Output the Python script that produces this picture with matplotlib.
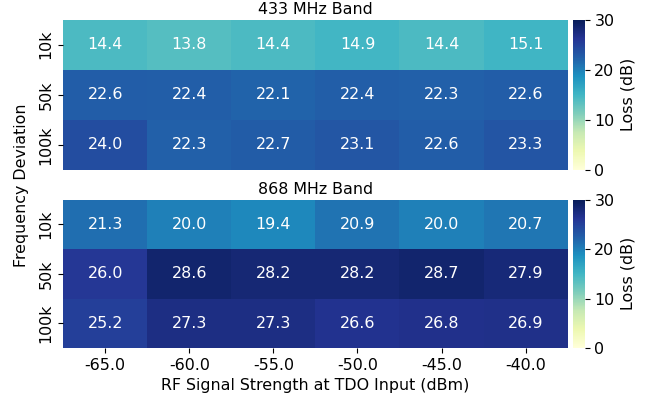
import matplotlib
matplotlib.use("Agg")
import matplotlib.pyplot as plt
import seaborn as sns
import numpy as np

# loss measurements (dB) per band
signal_strength = [-65.0, -60.0, -55.0, -50.0, -45.0, -40.0]
deviation = ["10k", "50k", "100k"]

loss_433 = [
    [14.4, 13.8, 14.4, 14.9, 14.4, 15.1],
    [22.6, 22.4, 22.1, 22.4, 22.3, 22.6],
    [24.0, 22.3, 22.7, 23.1, 22.6, 23.3],
]
loss_868 = [
    [21.3, 20.0, 19.4, 20.9, 20.0, 20.7],
    [26.0, 28.6, 28.2, 28.2, 28.7, 27.9],
    [25.2, 27.3, 27.3, 26.6, 26.8, 26.9],
]

fs = 11.4
plt.rcParams['font.size'] = fs

fig = plt.figure(figsize=(6.51, 3.94), dpi=100)

ax1 = fig.add_axes([0.097, 0.569, 0.775, 0.381])
cax1 = fig.add_axes([0.880, 0.569, 0.018, 0.381])
ax2 = fig.add_axes([0.097, 0.117, 0.775, 0.376])
cax2 = fig.add_axes([0.880, 0.117, 0.018, 0.376])

xlabels = [f"{v:.1f}" for v in signal_strength]

for ax, cax, data, title in [(ax1, cax1, loss_433, "433 MHz Band"),
                             (ax2, cax2, loss_868, "868 MHz Band")]:
    sns.heatmap(np.array(data), ax=ax, cbar_ax=cax, cmap="YlGnBu",
                vmin=0, vmax=30, annot=True, fmt=".1f",
                annot_kws={"color": "white", "fontsize": fs},
                xticklabels=xlabels, yticklabels=deviation,
                cbar_kws={"label": "Loss (dB)"})
    ax.set_title(title, fontsize=fs, pad=4)
    ax.tick_params(axis='y', rotation=90)
    for t in ax.get_yticklabels():
        t.set_va('center')
    cax.set_yticks([0, 10, 20, 30])
    cax.tick_params(labelsize=fs)
    cax.yaxis.label.set_size(fs)

ax1.set_xticks([])
ax1.set_xticklabels([])
ax2.set_xlabel("RF Signal Strength at TDO Input (dBm)", fontsize=fs)
fig.text(0.033, 0.53, "Frequency Deviation", rotation=90, va='center', ha='center', fontsize=fs)

fig.savefig("out.png", dpi=100)
